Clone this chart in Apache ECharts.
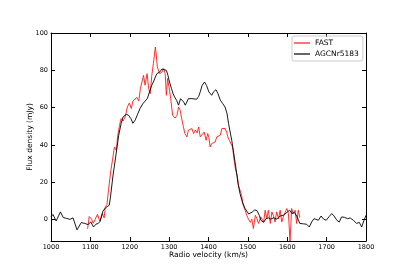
<!DOCTYPE html>
<html>
<head>
<meta charset="utf-8">
<script src="https://cdn.jsdelivr.net/npm/echarts@6/dist/echarts.min.js"></script>
<style>html,body{margin:0;padding:0;background:#fff}#c{width:407px;height:271px}</style>
</head>
<body>
<div id="c"></div>
<script>
const seriesNames = ['FAST', 'AGCNr5183'];
const xTicks = [1000, 1100, 1200, 1300, 1400, 1500, 1600, 1700, 1800];
const yTicks = [0, 20, 40, 60, 80, 100];

// FAST spectrum: [velocity km/s, flux mJy]
const fast = [
 [1093,-5],[1097,1.6],[1103,0.2],[1107,-2],[1112,0],[1118,2.8],[1124,-0.9],[1130,3.2],[1135,0.9],
 [1138,6.8],[1142,8],[1146,15.7],[1152,26.4],[1157,33],[1161,38.9],[1166,37.1],[1169,44.3],[1174,50.5],
 [1178,54.1],[1183,52.8],[1189,55.4],[1194,60.3],[1199,62.5],[1204,59.5],[1208,63.5],[1212,63],[1218,65.5],
 [1223,63.5],[1227,70.2],[1231,69.3],[1235,77.3],[1239,72],[1244,78.2],[1248,70.2],[1252,67.5],[1256,77.3],
 [1260,83.6],[1265,92.5],[1267,89],[1270,81.8],[1276,78.2],[1282,79.1],[1286,80.9],[1290,78.2],[1293,66.6],
 [1296,75.6],[1301,69.3],[1304,64.8],[1309,55.9],[1315,54.4],[1320,55.9],[1324,60.3],[1328,58.6],[1332,54],
 [1336,50],[1340,46.1],[1345,44.3],[1349,47.9],[1353,47],[1358,48.8],[1362,46.1],[1367,48],[1371,46.5],
 [1375,49.6],[1379,44.3],[1383,43.4],[1389,46.9],[1394,42.5],[1398,46.1],[1401,44],[1404,38.9],[1408,40.7],
 [1413,40.5],[1417,41.6],[1421,44.3],[1425,44.5],[1430,45.2],[1434,48.8],[1438,49.6],[1442,48.8],[1446,46.9],
 [1449,44.3],[1453,42.5],[1457,43.4],[1461,38.9],[1465,31.8],[1469,26.4],[1473,23.7],[1476,18.4],[1480,19.3],
 [1484,13],[1488,7.7],[1493,5],[1497,2.3],[1502,0],[1506,-1.5],[1510,0.2],[1514,-4.8],[1519,2.3],[1523,0.5],
 [1527,-2.1],[1533,1.4],[1540,-1.3],[1544,5],[1548,0.5],[1552,5],[1557,-2.1],[1561,4.1],[1565,2],[1569,-1.3],
 [1573,4.1],[1578,0.5],[1582,5],[1586,-1.3],[1590,1.5],[1595,4.1],[1599,5.9],[1603,3.2],[1607,-11.5],
 [1609,-4],[1611,5.9],[1615,3.2],[1620,5],[1624,-2.1],[1628,5],[1632,1]
];

// AGCNr5183 spectrum: [velocity km/s, flux mJy]
const agc = [
 [1000,1.5],[1005,2.7],[1013,-0.8],[1024,4.1],[1031,1.1],[1040,0.6],[1048,0.1],[1056,0.9],[1066,-5.5],
 [1077,-1.6],[1086,-2.1],[1094,-2.7],[1101,-1.3],[1108,-4],[1114,-2.5],[1120,-2.1],[1125,-0.9],[1128,1.4],
 [1132,4.5],[1138,6.2],[1143,6.8],[1148,7.7],[1151,12],[1157,22.8],[1166,36.2],[1172,45.2],[1178,51.4],
 [1183,55],[1191,56.4],[1197,55.9],[1203,54.1],[1208,51.6],[1214,53.4],[1220,56.5],[1226,59.5],[1233,62],
 [1239,63.5],[1245,65],[1251,69],[1256,72],[1260,73.7],[1265,76.4],[1269,78.2],[1276,79.1],[1282,80.7],
 [1287,80.5],[1293,80],[1297,77.3],[1301,73.7],[1306,70.2],[1310,67.5],[1314,65.7],[1319,63.9],[1324,61.3],
 [1329,64.8],[1333,65.7],[1337,63],[1341,61.3],[1345,63],[1349,64.8],[1353,65.7],[1358,64.8],[1362,65.5],
 [1370,64.5],[1375,66],[1379,68.4],[1384,72],[1390,73.7],[1395,71.9],[1401,68.4],[1408,66.6],[1413,68.5],
 [1419,69.6],[1424,67.5],[1430,64],[1436,62.2],[1442,60.3],[1447,56.8],[1451,51.4],[1455,46.9],[1459,42.5],
 [1463,37.1],[1468,30],[1475,19.3],[1480,13.9],[1486,9.4],[1493,5.9],[1497,5],[1502,3],[1506,2.5],
 [1512,4.1],[1517,5.2],[1523,4.8],[1529,2.3],[1533,-0.4],[1540,-1.5],[1546,0.5],[1552,0.9],[1558,0.2],
 [1565,0.9],[1574,0.2],[1582,1.9],[1590,2.3],[1599,3.8],[1606,5],[1612,3.2],[1618,3.8],[1624,1.9],
 [1632,-2.1],[1641,-2.3],[1649,-2.5],[1656,-4],[1662,-1.3],[1668,0.5],[1673,1.4],[1679,-0.4],[1686,1.9],
 [1692,0.3],[1699,-0.4],[1706,1.5],[1713,3.2],[1719,1.9],[1726,-0.4],[1732,-1.3],[1738,1.4],[1745,1.2],
 [1753,0.5],[1760,0.8],[1768,-0.4],[1776,-2.1],[1783,-1.5],[1789,-4],[1795,-0.4],[1800,2.3]
];

const FONT = 'DejaVu Sans';
const chart = echarts.init(document.getElementById('c'), null, {renderer: 'canvas'});
const axLine = {show: true, onZero: false, lineStyle: {color: '#000', width: 1}};
const tickIn = (vals) => Object.assign({show: true, inside: true, length: 4, lineStyle: {color: '#000', width: 1}}, vals ? {customValues: vals} : {});
const plain = (v) => String(v);

chart.setOption({
  animation: false,
  backgroundColor: '#fff',
  grid: {left: 51, right: 41, top: 33, bottom: 30, containLabel: false},
  legend: {
    orient: 'vertical', left: 292, top: 36,
    data: seriesNames,
    icon: 'rect', itemWidth: 16, itemHeight: 1.2, itemGap: 3,
    padding: [3, 4, 3, 2],
    borderColor: '#ccc', borderWidth: 1, borderRadius: 2,
    textStyle: {fontFamily: FONT, fontSize: 7.5, color: '#000'}
  },
  xAxis: [
    {type: 'value', position: 'bottom', min: xTicks[0], max: xTicks[xTicks.length - 1], interval: 100,
     axisLine: axLine, axisTick: tickIn(), splitLine: {show: false},
     axisLabel: {formatter: plain, fontFamily: FONT, fontSize: 6.5, color: '#000', margin: 3},
     name: 'Radio velocity (km/s)', nameLocation: 'middle', nameGap: 10, nameMoveOverlap: false,
     nameTextStyle: {fontFamily: FONT, fontSize: 7.5, color: '#000'}},
    {type: 'value', position: 'top', min: xTicks[0], max: xTicks[xTicks.length - 1], interval: 100,
     axisLine: axLine, axisTick: tickIn(), axisLabel: {show: false}, splitLine: {show: false}}
  ],
  yAxis: [
    {type: 'value', position: 'left', min: -11.5, max: 100,
     axisLine: axLine, axisTick: tickIn(yTicks), splitLine: {show: false},
     axisLabel: {customValues: yTicks, formatter: plain, fontFamily: FONT, fontSize: 6.5, color: '#000', margin: 3},
     name: 'Flux density (mJy)', nameLocation: 'middle', nameGap: 17, nameRotate: 90, nameMoveOverlap: false,
     nameTextStyle: {fontFamily: FONT, fontSize: 7.5, color: '#000'}},
    {type: 'value', position: 'right', min: -11.5, max: 100,
     axisLine: axLine, axisTick: tickIn(yTicks), axisLabel: {show: false}, splitLine: {show: false}}
  ],
  series: [
    {name: seriesNames[0], type: 'line', data: fast, showSymbol: false, symbol: 'none',
     lineStyle: {color: '#ff1a1a', width: 0.9}, itemStyle: {color: '#ff1a1a'}, xAxisIndex: 0, yAxisIndex: 0},
    {name: seriesNames[1], type: 'line', data: agc, showSymbol: false, symbol: 'none',
     lineStyle: {color: '#000', width: 0.9}, itemStyle: {color: '#000'}, xAxisIndex: 0, yAxisIndex: 0}
  ]
});
</script>
</body>
</html>
